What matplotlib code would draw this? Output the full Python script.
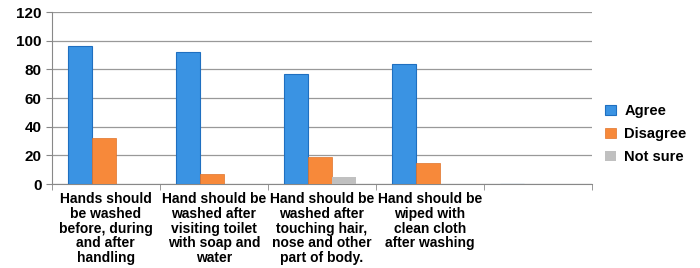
import matplotlib.pyplot as plt
import numpy as np

categories = ['Hands should\nbe washed\nbefore, during\nand after\nhandling',
              'Hand should be\nwashed after\nvisiting toilet\nwith soap and\nwater',
              'Hand should be\nwashed after\ntouching hair,\nnose and other\npart of body.',
              'Hand should be\nwiped with\nclean cloth\nafter washing',
              '']
agree = [96, 92, 77, 84, 0]
disagree = [32, 7, 19, 15, 0]
not_sure = [0, 0, 5, 0, 0]

plt.rcParams['font.family'] = ['Liberation Sans', 'DejaVu Sans']

fig = plt.figure(figsize=(7, 2.68), dpi=100)
ax = fig.add_axes([0.074, 0.313, 0.772, 0.642])

x = np.arange(len(categories))
w = 0.222
ax.bar(x - w - 0.02, agree, w, color='#3a93e3', edgecolor='#1f6fc0', linewidth=0.8, label='Agree', zorder=3)
ax.bar(x - 0.02, disagree, w, color='#f7893a', edgecolor='#e0732a', linewidth=0.5, label='Disagree', zorder=3)
ax.bar(x + w - 0.02, not_sure, w, color='#c0c0c0', label='Not sure', zorder=3)

ax.set_xlim(-0.5, len(categories) - 0.5)
ax.set_ylim(0, 120)
ax.set_yticks(range(0, 121, 20))
ax.set_xticks(x)
ax.set_xticklabels(categories, fontsize=10, fontweight='bold', linespacing=1.05)
ax.set_xticks(np.arange(-0.5, len(categories), 1), minor=True)
ax.tick_params(axis='x', which='major', length=0, pad=6)
ax.tick_params(axis='x', which='minor', length=4, color='#888888')
ax.tick_params(axis='y', length=4, color='#888888', labelsize=11)
for t in ax.get_yticklabels():
    t.set_fontweight('bold')

ax.grid(axis='y', color='#999999', linewidth=0.9, zorder=0)
for s in ['top', 'right']:
    ax.spines[s].set_visible(False)
ax.spines['left'].set_color('#888888')
ax.spines['bottom'].set_color('#888888')

ax.legend(loc='center left', bbox_to_anchor=(1.0, 0.29), frameon=False,
          prop={'weight': 'bold', 'size': 10.5}, handlelength=0.7, handleheight=0.7,
          handletextpad=0.6, labelspacing=0.6)

plt.savefig('out.png', dpi=100)
